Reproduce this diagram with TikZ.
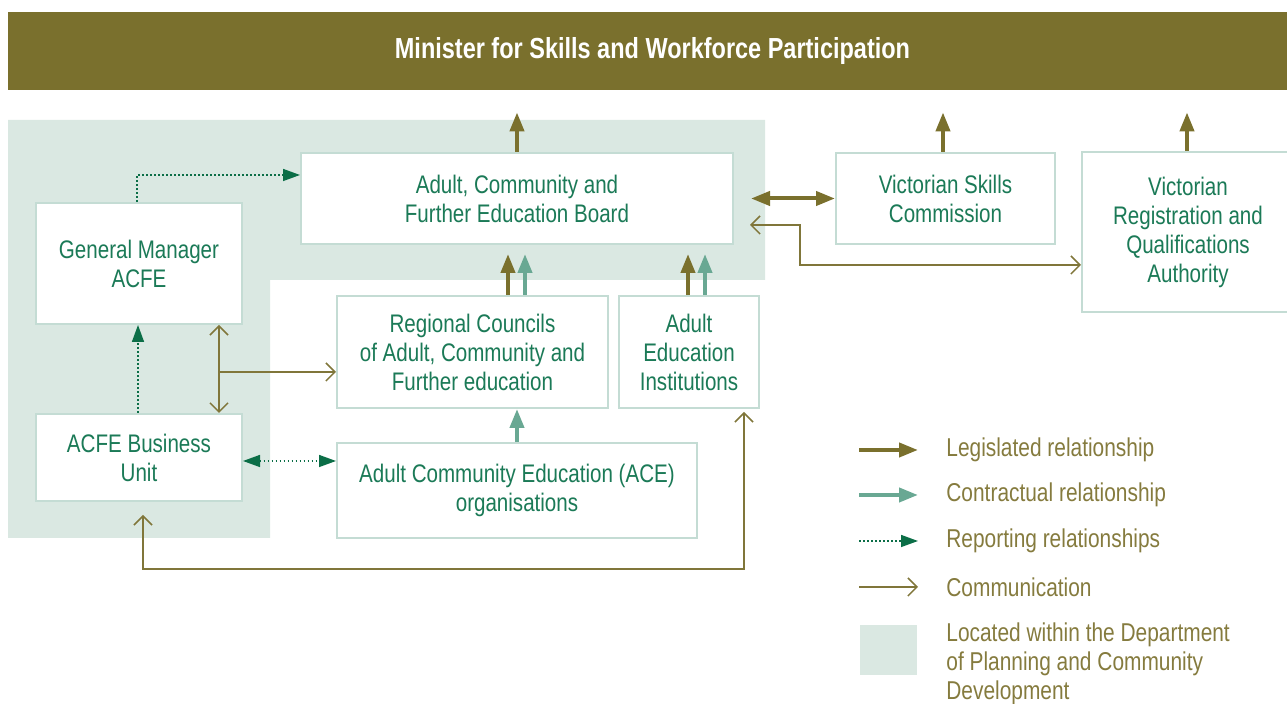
\documentclass[tikz,border=0pt]{standalone}
\usepackage{fontspec}
\setmainfont{Liberation Sans}[FakeStretch=0.81]
\usetikzlibrary{arrows.meta}
\definecolor{bannercol}{HTML}{7A702D}
\definecolor{legiscol}{HTML}{7A702D}
\definecolor{contcol}{HTML}{69A893}
\definecolor{repcol}{HTML}{0B6E47}
\definecolor{commcol}{HTML}{80763A}
\definecolor{boxtext}{HTML}{1B7A57}
\definecolor{keytext}{HTML}{857B3E}
\definecolor{shadecol}{HTML}{DAE8E2}
\definecolor{edgecol}{HTML}{C4DCD4}
\tikzset{
  ltip/.tip={Triangle[length=9.5pt,width=7pt]},
  rtip/.tip={Triangle[length=8.5pt,width=6pt]},
  ctip/.tip={Straight Barb[length=4.5pt,width=9pt]}
}
\begin{document}
\begin{tikzpicture}[x=0.5pt, y=-0.5pt,
    box/.style={draw=edgecol, line width=1pt, fill=white, text=boxtext, align=center, inner sep=0pt, font=\fontsize{12.7}{14.5}\selectfont},
    key/.style={text=keytext, inner sep=0pt, align=left, font=\fontsize{12.9}{14.5}\selectfont},
    legis/.style={draw=legiscol, line width=2pt, -ltip},
    contract/.style={draw=contcol, line width=2pt, -ltip},
    report/.style={draw=repcol, line width=0.75pt, dash pattern=on 0.75pt off 1.25pt, -rtip},
    comm/.style={draw=commcol, line width=0.75pt, -ctip}]
  \useasboundingbox (0,0) rectangle (1287,704);
  \fill[shadecol] (8,120) -- (765,120) -- (765,280) -- (270,280) -- (270,538) -- (8,538) -- cycle;

  \node[fill=bannercol, minimum width=644.5pt, minimum height=39pt, text=white, font=\bfseries\fontsize{14.5}{16}\selectfont] (minister) at (652.5,51) {Minister for Skills and Workforce Participation};

  \node[box, minimum width=216pt, minimum height=45.5pt] (board) at (517,198.5) {Adult, Community and\\Further Education Board};
  \node[box, minimum width=103pt, minimum height=60.5pt] (gm) at (139,263.5) {General Manager\\ACFE};
  \node[box, minimum width=103pt, minimum height=43.5pt] (bu) at (139,457.5) {ACFE Business\\Unit};
  \node[box, minimum width=135.5pt, minimum height=56pt] (rc) at (472.5,352) {Regional Councils\\of Adult, Community and\\Further education};
  \node[box, minimum width=70pt, minimum height=56pt] (aei) at (689,352) {Adult\\Education\\Institutions};
  \node[box, minimum width=180pt, minimum height=47.5pt] (ace) at (517,490.5) {Adult Community Education (ACE)\\organisations};
  \node[box, minimum width=109.5pt, minimum height=45.5pt] (vsc) at (945.5,198.5) {Victorian Skills\\Commission};
  \node[box, minimum width=106pt, minimum height=80pt] (vrqa) at (1188,232) {Victorian\\Registration and\\Qualifications\\Authority};

  \draw[legis, shorten >=11pt] (board.north) -- (board.north |- minister.south);
  \draw[legis, shorten >=11pt] (vsc.north -| 943,0) -- (minister.south -| 943,0);
  \draw[legis, shorten >=11pt] (vrqa.north -| 1187,0) -- (minister.south -| 1187,0);
  \draw[legis, ltip-ltip, shorten <=8.5pt] (board.east) -- (vsc.west);
  \draw[comm, ctip-ctip, shorten <=8pt] (board.east |- 0,225) -| (800,265) -- (vrqa.west |- 0,265);

  \draw[legis, shorten >=4.5pt] (rc.north -| 508,0) -- (board.south -| 508,0);
  \draw[contract, shorten >=4.5pt] (rc.north -| 525,0) -- (board.south -| 525,0);
  \draw[legis, shorten >=4.5pt] (aei.north -| 688,0) -- (board.south -| 688,0);
  \draw[contract, shorten >=4.5pt] (aei.north -| 705,0) -- (board.south -| 705,0);
  \draw[contract] (ace.north) -- (rc.south -| ace.north);

  \draw[report] (gm.north -| 137,0) |- (board.west |- 0,175);
  \draw[report] (bu.north -| 138,0) -- (gm.south -| 138,0);
  \draw[report, rtip-rtip] (bu.east |- 0,461) -- (ace.west |- 0,461);

  \draw[comm, ctip-ctip] (gm.south -| 219,0) -- (bu.north -| 219,0);
  \coordinate (split) at (219,372);
  \draw[comm] (split) -- (rc.west |- split);
  \draw[comm, ctip-ctip, shorten <=6.5pt, shorten >=1.5pt] (bu.south -| 143,0) |- (744,569) -- (aei.south -| 744,0);

  \foreach \y/\sty/\txt in {450/legis/Legislated relationship, 495/contract/Contractual relationship, 541/report/Reporting relationships, 587/comm/Communication}{
    \node[key, anchor=west] (key\y) at (946,\y) {\txt};
    \coordinate (start\y) at (859,\y);
    \draw[\sty, shorten >=14pt] (start\y) -- (key\y.west);
  }
  \node[fill=shadecol, minimum width=28.5pt, minimum height=25pt, inner sep=0pt] (dept) at (888.5,650) {};
  \node[key, anchor=north west] (deptkey) at (946,622) {Located within the Department\\of Planning and Community\\Development};
\end{tikzpicture}
\end{document}
